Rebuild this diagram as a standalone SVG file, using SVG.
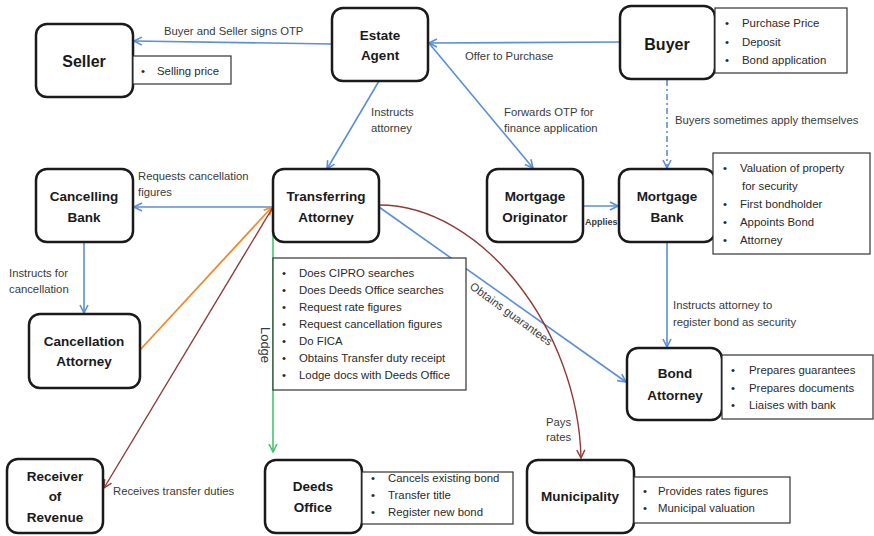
<svg xmlns="http://www.w3.org/2000/svg" width="874" height="536" viewBox="0 0 874 536">
  <style>
    .node rect { fill: #ffffff; stroke: #1a1a1a; stroke-width: 2.5; }
    .node text { font-family: "Liberation Sans", Arial, sans-serif; font-weight: bold; font-size: 13.5px; fill: #1a1a1a; text-anchor: middle; }
    .node text.big { font-size: 16px; }
    .list rect { fill: #ffffff; stroke: #333333; stroke-width: 1.2; }
    .list text { font-family: "Liberation Sans", Arial, sans-serif; font-size: 11.4px; fill: #2a2a2a; }
    .lbl { font-family: "Liberation Sans", Arial, sans-serif; font-size: 11.3px; fill: #3a3a3a; }
    .blue { stroke: #5b8fd6; stroke-width: 1.6; fill: none; }
    .brown { stroke: #8e3b39; stroke-width: 1.4; fill: none; }
    .orange { stroke: #f08a2c; stroke-width: 1.8; fill: none; }
    .green { stroke: #45c46c; stroke-width: 1.6; fill: none; }
  </style>
  <defs>
    <marker id="arrBlue" viewBox="0 0 10 10" refX="9" refY="5" markerWidth="10" markerHeight="10" markerUnits="userSpaceOnUse" orient="auto">
      <path d="M1,1 L9,5 L1,9" fill="none" stroke="#5b8fd6" stroke-width="1.6"/>
    </marker>
    <marker id="arrBrown" viewBox="0 0 10 10" refX="9" refY="5" markerWidth="10" markerHeight="10" markerUnits="userSpaceOnUse" orient="auto">
      <path d="M1,1 L9,5 L1,9" fill="none" stroke="#8e3b39" stroke-width="1.4"/>
    </marker>
    <marker id="arrOrange" viewBox="0 0 10 10" refX="9" refY="5" markerWidth="10" markerHeight="10" markerUnits="userSpaceOnUse" orient="auto">
      <path d="M1,1 L9,5 L1,9" fill="none" stroke="#f08a2c" stroke-width="1.6"/>
    </marker>
    <marker id="arrGreen" viewBox="0 0 10 10" refX="9" refY="5" markerWidth="10" markerHeight="10" markerUnits="userSpaceOnUse" orient="auto">
      <path d="M1,1 L9,5 L1,9" fill="none" stroke="#45c46c" stroke-width="1.6"/>
    </marker>
  </defs>

  <rect width="874" height="536" fill="#ffffff"/>

  <!-- connectors -->
  <g id="connectors">
    <line class="blue" x1="332" y1="44" x2="134" y2="41" marker-end="url(#arrBlue)"/>
    <line class="blue" x1="620" y1="42" x2="429" y2="43" marker-end="url(#arrBlue)"/>
    <line class="blue" x1="379" y1="81" x2="327" y2="169" marker-end="url(#arrBlue)"/>
    <line class="blue" x1="428" y1="42" x2="533" y2="168" marker-end="url(#arrBlue)"/>
    <line class="blue" x1="667" y1="80" x2="667" y2="168" stroke-dasharray="6 3 2 3" marker-end="url(#arrBlue)"/>
    <line class="blue" x1="583" y1="206" x2="618" y2="206" marker-end="url(#arrBlue)"/>
    <line class="blue" x1="667" y1="242" x2="667" y2="347" marker-end="url(#arrBlue)"/>
    <line class="blue" x1="273" y1="207" x2="134" y2="207" marker-end="url(#arrBlue)"/>
    <line class="blue" x1="84" y1="242" x2="84" y2="313" marker-end="url(#arrBlue)"/>
    <line class="blue" x1="379" y1="207" x2="626" y2="382" marker-end="url(#arrBlue)"/>
    <line class="orange" x1="140" y1="350" x2="272" y2="207" marker-end="url(#arrOrange)"/>
    <line class="brown" x1="273" y1="207" x2="104" y2="488" marker-end="url(#arrBrown)"/>
    <path class="brown" d="M379,205 C482,205 578,330 581,458" marker-end="url(#arrBrown)"/>
    <line class="green" x1="273" y1="234" x2="273" y2="452" marker-end="url(#arrGreen)"/>

    <text class="lbl" x="164" y="35">Buyer and Seller signs OTP</text>
    <text class="lbl" x="465" y="60">Offer to Purchase</text>
    <text class="lbl" x="371" y="116">Instructs</text>
    <text class="lbl" x="371" y="132">attorney</text>
    <text class="lbl" x="504" y="116">Forwards OTP for</text>
    <text class="lbl" x="504" y="132">finance application</text>
    <text class="lbl" x="675" y="124">Buyers sometimes apply themselves</text>
    <text class="lbl" x="585" y="225" style="font-size:9px;font-weight:bold">Applies</text>
    <text class="lbl" x="673" y="309">Instructs attorney to</text>
    <text class="lbl" x="673" y="326">register bond as security</text>
    <text class="lbl" x="138" y="180">Requests cancellation</text>
    <text class="lbl" x="138" y="196">figures</text>
    <text class="lbl" x="9" y="277">Instructs for</text>
    <text class="lbl" x="9" y="293">cancellation</text>
    <text class="lbl" x="113" y="495">Receives transfer duties</text>
    <text class="lbl" x="546" y="426">Pays</text>
    <text class="lbl" x="546" y="441">rates</text>
    <text class="lbl" transform="translate(509,317) rotate(36)" text-anchor="middle">Obtains guarantees</text>
    <text class="lbl" transform="translate(261,345) rotate(90)" text-anchor="middle" style="font-size:13px">Lodge</text>
  </g>

  <!-- nodes -->
  <g id="seller" class="node">
    <rect x="36" y="24" width="97" height="73" rx="11"/>
    <text class="big" x="84" y="67">Seller</text>
  </g>
  <g id="seller-notes" class="list">
    <rect x="133" y="56" width="98" height="28"/>
    <text x="141" y="75">•</text>
    <text x="157" y="75">Selling price</text>
  </g>

  <g id="estate-agent" class="node">
    <rect x="332" y="8" width="96" height="73" rx="11"/>
    <text x="380" y="40">Estate</text>
    <text x="380" y="60">Agent</text>
  </g>

  <g id="buyer" class="node">
    <rect x="620" y="6" width="95" height="73" rx="11"/>
    <text class="big" x="667" y="50">Buyer</text>
  </g>
  <g id="buyer-notes" class="list">
    <rect x="715" y="8" width="132" height="65"/>
    <text x="725" y="27">•</text><text x="742" y="27">Purchase Price</text>
    <text x="725" y="46">•</text><text x="742" y="46">Deposit</text>
    <text x="725" y="64">•</text><text x="742" y="64">Bond application</text>
  </g>

  <g id="cancelling-bank" class="node">
    <rect x="36" y="169" width="97" height="73" rx="11"/>
    <text x="84" y="201">Cancelling</text>
    <text x="84" y="222">Bank</text>
  </g>

  <g id="transferring-attorney" class="node">
    <rect x="273" y="169" width="106" height="73" rx="11"/>
    <text x="326" y="201">Transferring</text>
    <text x="326" y="222">Attorney</text>
  </g>
  <g id="transferring-attorney-notes" class="list">
    <rect x="273" y="258" width="193" height="132"/>
    <text x="282" y="277">•</text><text x="299" y="277">Does CIPRO searches</text>
    <text x="282" y="294">•</text><text x="299" y="294">Does Deeds Office searches</text>
    <text x="282" y="311">•</text><text x="299" y="311">Request rate figures</text>
    <text x="282" y="328">•</text><text x="299" y="328">Request cancellation figures</text>
    <text x="282" y="345">•</text><text x="299" y="345">Do FICA</text>
    <text x="282" y="362">•</text><text x="299" y="362">Obtains Transfer duty receipt</text>
    <text x="282" y="379">•</text><text x="299" y="379">Lodge docs with Deeds Office</text>
  </g>

  <g id="mortgage-originator" class="node">
    <rect x="487" y="169" width="96" height="73" rx="11"/>
    <text x="535" y="201">Mortgage</text>
    <text x="535" y="222">Originator</text>
  </g>

  <g id="mortgage-bank" class="node">
    <rect x="619" y="169" width="96" height="73" rx="11"/>
    <text x="667" y="201">Mortgage</text>
    <text x="667" y="222">Bank</text>
  </g>
  <g id="mortgage-bank-notes" class="list">
    <rect x="713" y="153" width="157" height="101"/>
    <text x="723" y="172">•</text><text x="740" y="172">Valuation of property</text>
    <text x="742" y="190">for security</text>
    <text x="723" y="208">•</text><text x="740" y="208">First bondholder</text>
    <text x="723" y="226">•</text><text x="740" y="226">Appoints Bond</text>
    <text x="723" y="244">•</text><text x="740" y="244">Attorney</text>
  </g>

  <g id="cancellation-attorney" class="node">
    <rect x="29" y="314" width="111" height="74" rx="11"/>
    <text x="84" y="346">Cancellation</text>
    <text x="84" y="366">Attorney</text>
  </g>

  <g id="bond-attorney" class="node">
    <rect x="627" y="348" width="95" height="72" rx="11"/>
    <text x="675" y="378">Bond</text>
    <text x="675" y="400">Attorney</text>
  </g>
  <g id="bond-attorney-notes" class="list">
    <rect x="722" y="355" width="151" height="64"/>
    <text x="731" y="374">•</text><text x="749" y="374">Prepares guarantees</text>
    <text x="731" y="392">•</text><text x="749" y="392">Prepares documents</text>
    <text x="731" y="409">•</text><text x="749" y="409">Liaises with bank</text>
  </g>

  <g id="receiver-of-revenue" class="node">
    <rect x="7" y="459" width="96" height="74" rx="11"/>
    <text x="55" y="481">Receiver</text>
    <text x="55" y="501">of</text>
    <text x="55" y="522">Revenue</text>
  </g>

  <g id="deeds-office" class="node">
    <rect x="265" y="460" width="97" height="73" rx="11"/>
    <text x="313" y="491">Deeds</text>
    <text x="313" y="512">Office</text>
  </g>
  <g id="deeds-office-notes" class="list">
    <rect x="362" y="472" width="151" height="52"/>
    <text x="371" y="482">•</text><text x="388" y="482">Cancels existing bond</text>
    <text x="371" y="499">•</text><text x="388" y="499">Transfer title</text>
    <text x="371" y="516">•</text><text x="388" y="516">Register new bond</text>
  </g>

  <g id="municipality" class="node">
    <rect x="527" y="460" width="107" height="73" rx="11"/>
    <text x="580" y="501">Municipality</text>
  </g>
  <g id="municipality-notes" class="list">
    <rect x="634" y="477" width="156" height="46"/>
    <text x="643" y="495">•</text><text x="658" y="495">Provides rates figures</text>
    <text x="643" y="512">•</text><text x="658" y="512">Municipal valuation</text>
  </g>
</svg>
